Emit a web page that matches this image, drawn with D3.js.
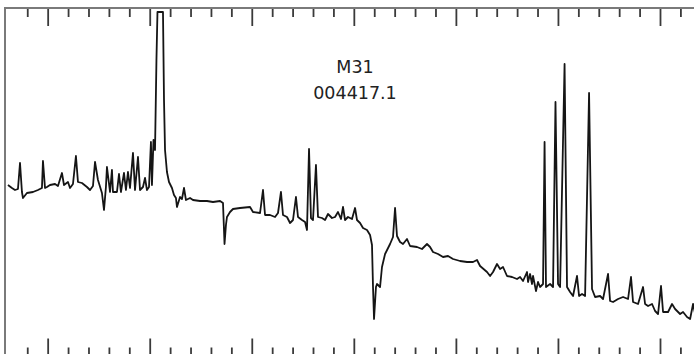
<!DOCTYPE html>
<html>
<head>
<meta charset="utf-8">
<script src="https://cdn.jsdelivr.net/npm/d3@7/dist/d3.min.js"></script>
<style>
  html, body { margin: 0; padding: 0; background: #fff; }
  svg { display: block; }
</style>
</head>
<body>
<svg id="chart" width="694" height="354"></svg>
<script>
// Wavelength (Angstrom) and relative flux
const wavelength = [
  3611,3650,3680,3709,3729,3748,3758,3797,3856,3905,3944,3954,3974,3993,4023,4072,4101,4140,4160,4199,
  4219,4248,4277,4297,4336,4385,4415,4444,4464,4493,4532,4552,4571,4581,4611,4630,4640,4679,4699,4718,
  4748,4767,4787,4807,4836,4856,4885,4905,4934,4954,4973,4993,5012,5022,5037,5052,5066,5076,5130,5140,
  5150,5169,5189,5218,5238,5257,5267,5297,5316,5336,5355,5395,5424,5493,5561,5620,5689,5718,5733,5747,
  5757,5787,5816,5885,5983,6012,6081,6110,6130,6179,6228,6257,6286,6306,6345,6375,6404,6433,6453,6492,
  6522,6541,6561,6580,6600,6629,6649,6688,6718,6747,6786,6816,6845,6874,6894,6914,6943,6982,7012,7031,
  7061,7090,7129,7159,7178,7188,7198,7217,7227,7257,7276,7306,7355,7384,7404,7423,7453,7482,7521,7551,
  7619,7668,7717,7747,7776,7825,7874,7923,7972,8041,8109,8168,8207,8237,8305,8335,8364,8403,8433,8462,
  8501,8550,8599,8629,8658,8697,8707,8727,8746,8756,8785,8805,8825,8854,8869,8883,8923,8952,8976,9001,
  9021,9065,9089,9119,9148,9187,9207,9236,9266,9305,9334,9364,9413,9442,9491,9511,9540,9589,9638,9687,
  9716,9736,9785,9834,9854,9883,9922,9952,9981,10010,10030,10079,10118,10148,10197,10226,10265,10295,10324,10353
];
const flux = [
  17.15,16.85,16.65,16.75,19.35,16.45,15.85,16.35,16.45,16.65,16.85,19.55,16.85,16.95,17.15,17.25,17.05,18.35,17.15,17.45,
  16.85,17.25,20.05,17.45,17.35,16.95,16.65,17.05,19.45,17.65,16.35,14.65,16.95,18.95,16.45,18.65,16.45,16.45,18.25,16.45,
  18.35,16.65,18.45,16.85,20.35,16.65,19.95,16.65,16.95,17.85,16.65,16.95,21.45,17.15,21.65,20.65,29.65,34.45,34.45,25.65,
  20.65,18.45,17.45,16.85,16.15,15.85,14.95,15.95,15.75,16.85,15.65,15.85,15.65,15.55,15.55,15.45,15.55,15.35,11.25,13.15,
  13.95,14.45,14.75,14.85,14.95,14.45,14.35,16.65,14.15,14.15,13.95,14.35,16.45,14.15,13.95,13.35,13.65,15.95,13.95,13.65,
  13.45,12.65,20.75,13.85,13.65,19.15,13.95,13.85,13.65,14.25,13.85,13.95,14.45,13.75,14.95,13.65,13.95,13.75,14.85,13.65,
  13.35,12.85,12.65,12.15,11.15,6.95,3.75,6.95,7.25,6.95,8.95,10.25,11.25,11.95,14.85,12.05,11.45,11.25,11.75,11.05,
  10.95,10.75,11.25,10.95,10.45,10.25,9.95,10.05,9.75,9.55,9.45,9.45,9.65,9.05,8.45,8.05,8.45,9.25,8.75,8.95,
  8.05,7.95,7.75,7.95,7.55,8.45,7.45,8.25,7.25,8.05,6.55,7.45,6.95,7.25,21.45,6.95,7.25,6.95,25.45,7.25,
  6.95,29.25,6.95,6.45,6.05,8.05,6.05,6.25,6.05,26.35,6.75,5.95,6.05,5.75,8.25,5.55,5.45,5.75,5.95,5.75,
  7.95,5.45,5.25,6.95,5.25,5.05,5.25,4.55,4.25,7.05,4.45,4.45,5.25,4.75,4.25,4.45,3.95,3.75,5.25,3.85
];
const majorTicks = [4000,5000,6000,7000,8000,9000,10000];
const minorTicks = [3800,4200,4400,4600,4800,5200,5400,5600,5800,6200,6400,6600,6800,7200,7400,7600,7800,
                    8200,8400,8600,8800,9200,9400,9600,9800,10200];
const labelLines = ["M31", "004417.1"];

const svg = d3.select("#chart");
const pLeft = 5, pTop = 8, pRight = 700, pBottom = 356.5;

const x = d3.scaleLinear().domain([3582, 10392]).range([pLeft, pRight]);
const y = d3.scaleLinear().domain([0, 34.85]).range([pBottom, pTop]);

svg.append("defs").append("clipPath").attr("id", "clip")
  .append("rect").attr("x", pLeft).attr("y", pTop)
  .attr("width", pRight - pLeft).attr("height", pBottom - pTop);

// spectrum
const pts = wavelength.map((w, i) => [w, flux[i]]);
svg.append("path")
  .datum(pts)
  .attr("clip-path", "url(#clip)")
  .attr("fill", "none")
  .attr("stroke", "#151515")
  .attr("stroke-width", 1.8)
  .attr("stroke-linejoin", "round")
  .attr("d", d3.line().x(d => x(d[0])).y(d => y(d[1])));

// ticks
function tickAxis(gen, vals, size, ypos) {
  const g = svg.append("g").attr("transform", `translate(0,${ypos})`)
    .call(gen(x).tickValues(vals).tickSize(size).tickFormat(""));
  g.select(".domain").remove();
  g.selectAll(".tick line").attr("stroke", "#3a3a3a").attr("stroke-width", 1.8);
}
tickAxis(d3.axisBottom, minorTicks, 9, pTop);
tickAxis(d3.axisBottom, majorTicks, 18, pTop);
tickAxis(d3.axisTop, minorTicks, 9, pBottom);
tickAxis(d3.axisTop, majorTicks, 18, pBottom);

// frame
svg.append("rect")
  .attr("x", pLeft).attr("y", pTop)
  .attr("width", pRight - pLeft).attr("height", pBottom - pTop)
  .attr("fill", "none").attr("stroke", "#7a7a7a").attr("stroke-width", 2);

// label
svg.append("text")
  .attr("x", 355).attr("y", 73)
  .attr("text-anchor", "middle")
  .attr("font-family", "DejaVu Sans, Verdana, sans-serif")
  .attr("font-size", 17.5)
  .attr("fill", "#222")
  .text(labelLines[0]);
svg.append("text")
  .attr("x", 355).attr("y", 98.5)
  .attr("text-anchor", "middle")
  .attr("font-family", "DejaVu Sans, Verdana, sans-serif")
  .attr("font-size", 17.5)
  .attr("fill", "#222")
  .text(labelLines[1]);
</script>
</body>
</html>
